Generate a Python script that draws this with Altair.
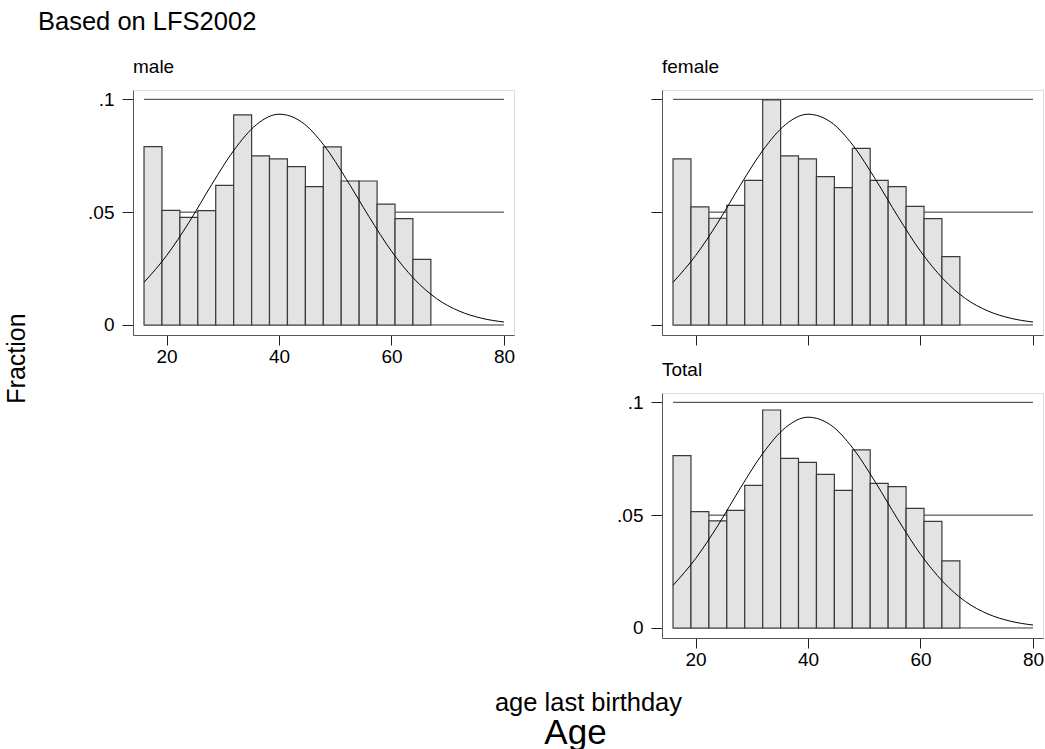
import altair as alt
import pandas as pd

FONT = "Liberation Sans"

# ---- data ----
bin_edges = [16.0, 19.19, 22.38, 25.56, 28.75, 31.94, 35.13, 38.31, 41.5,
             44.69, 47.88, 51.06, 54.25, 57.44, 60.63, 63.81, 67.0]
male_fraction = [0.0790, 0.0508, 0.0477, 0.0507, 0.0619, 0.0931, 0.0749, 0.0736,
                 0.0702, 0.0613, 0.0789, 0.0638, 0.0638, 0.0536, 0.0471, 0.0291]
female_fraction = [0.0736, 0.0523, 0.0473, 0.0530, 0.0641, 0.0997, 0.0749, 0.0736,
                   0.0657, 0.0609, 0.0783, 0.0641, 0.0613, 0.0526, 0.0471, 0.0303]
total_fraction = [0.0764, 0.0516, 0.0475, 0.0521, 0.0632, 0.0966, 0.0752, 0.0734,
                  0.0681, 0.0610, 0.0789, 0.0641, 0.0626, 0.0530, 0.0472, 0.0297]
curve_age = [16, 20, 24, 28, 32, 36, 40, 44, 48, 52, 56, 60, 64, 68, 72, 76, 80]
curve_fraction = [0.0189, 0.0307, 0.0455, 0.0621, 0.0775, 0.0888, 0.0934, 0.0900,
                  0.0796, 0.0645, 0.0480, 0.0327, 0.0205, 0.0117, 0.0062, 0.0030, 0.0013]
grid_levels = [0, 0.05, 0.1]
grid_from, grid_to = 16, 80
x_ticks = [20, 40, 60, 80]
y_ticks = [0, 0.05, 0.1]

W, H = 381, 245
xscale = alt.Scale(domain=[14.04, 81.78], nice=False, zero=False)
yscale = alt.Scale(domain=[-0.00444, 0.10413], nice=False, zero=False)

axis_common = dict(grid=False, domainColor="#555555", domainWidth=1,
                   tickColor="#222222", tickWidth=1, labelFont=FONT,
                   labelFontSize=19, labelColor="black", titleFont=FONT,
                   titleColor="black", titleFontWeight="normal")

curve_df = pd.DataFrame({"age": curve_age, "fraction": curve_fraction})
grid_df = pd.DataFrame({"level": grid_levels, "start": grid_from, "end": grid_to})


def panel(name, fraction, show_labels, x_title=None, y_title=None):
    xa = dict(axis_common, values=x_ticks, tickSize=10, labelPadding=2,
              labelFlush=False, labels=show_labels, title=None)
    ya = dict(axis_common, values=y_ticks, tickSize=11, labelPadding=8,
              labels=show_labels, title=None,
              labelExpr="datum.value == 0 ? '0' : replace(format(datum.value, '.2~f'), '0.', '.')")
    if x_title:
        xa.update(x_title)
    if y_title:
        ya.update(y_title)

    def X(field):
        return alt.X(field, type="quantitative", scale=xscale, axis=alt.Axis(**xa))

    def Y(field):
        return alt.Y(field, type="quantitative", scale=yscale, axis=alt.Axis(**ya))

    bar_df = pd.DataFrame({"left": bin_edges[:-1], "right": bin_edges[1:],
                           "fraction": fraction})
    rules = alt.Chart(grid_df).mark_rule(color="#333333", strokeWidth=1).encode(
        x=X("start"), x2="end:Q", y=Y("level"),
    )
    bars = alt.Chart(bar_df).mark_bar(fill="#e3e3e3", stroke="#3a3a3a",
                                      strokeWidth=1.2).encode(
        x=X("left"), x2="right:Q", y=Y("fraction"), y2=alt.datum(0),
    )
    line = alt.Chart(curve_df).mark_line(color="black", strokeWidth=1,
                                         interpolate="monotone").encode(
        x=X("age"), y=Y("fraction"),
    )
    return alt.layer(rules, bars, line).properties(
        width=W, height=H,
        title=alt.TitleParams(name, anchor="start", frame="group", font=FONT,
                              fontSize=19, fontWeight="normal", color="black",
                              baseline="alphabetic", offset=-2.3),
    )


male = panel("male", male_fraction, True,
             x_title=dict(title="age last birthday", titleX=455, titleY=375,
                          titleAlign="center", titleBaseline="alphabetic",
                          titleAngle=0, titleFontSize=25.5),
             y_title=dict(title="Fraction", titleX=-116.5, titleY=268,
                          titleAlign="center", titleBaseline="middle",
                          titleAngle=270, titleFontSize=25))
female = panel("female", female_fraction, False)
total = panel("Total", total_fraction, True,
              x_title=dict(title="Age", titleX=-87, titleY=105,
                           titleAlign="center", titleBaseline="alphabetic",
                           titleAngle=0, titleFontSize=35))

chart = alt.hconcat(
    male,
    alt.vconcat(female, total, spacing=58, bounds="flush"),
    spacing=148, bounds="flush",
).properties(
    title=alt.TitleParams("Based on LFS2002", anchor="start", font=FONT,
                          fontSize=25.5, fontWeight="normal", color="black",
                          baseline="alphabetic", offset=2.3, dx=34),
    padding={"left": 4, "top": 10, "right": 0, "bottom": 0},
).configure_view(stroke="transparent", strokeWidth=0).configure(background="white")

chart.save("out.html", embed_options={"renderer": "svg", "actions": False})
